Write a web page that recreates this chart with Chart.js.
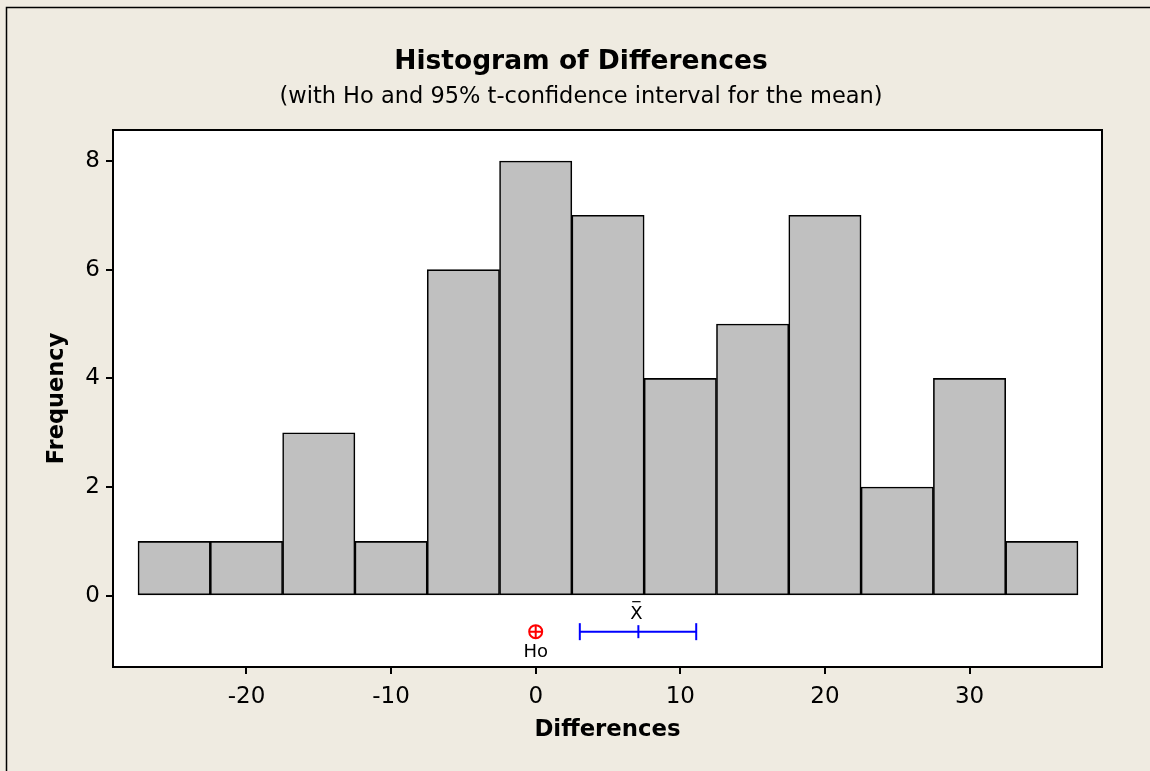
<!DOCTYPE html>
<html>
<head>
<meta charset="utf-8">
<script src="https://cdn.jsdelivr.net/npm/chart.js@4.4.1/dist/chart.umd.min.js"></script>
<style>
  html, body { margin: 0; padding: 0; background: #EFEBE1; }
  #wrap { width: 1150px; height: 771px; position: relative; }
</style>
</head>
<body>
<div id="wrap"><canvas id="c" width="1150" height="771"></canvas></div>
<script>
// ---- data ----
const binCenters  = [-25, -20, -15, -10, -5, 0, 5, 10, 15, 20, 25, 30, 35];
const frequencies = [1, 1, 3, 1, 6, 8, 7, 4, 5, 7, 2, 4, 1];
const xTickValues = [-20, -10, 0, 10, 20, 30];
const yTickValues = [0, 2, 4, 6, 8];
const hypothesizedMean = 0;
const ciLower = 3.05;
const sampleMean = 7.1;
const ciUpper = 11.1;
const intervalRow = -0.66;

const titleText = 'Histogram of Differences';
const subtitleText = '(with Ho and 95% t-confidence interval for the mean)';
const xTitle = 'Differences';
const yTitle = 'Frequency';

const FONT = "'DejaVu Sans', Verdana, sans-serif";

const decorPlugin = {
  id: 'decor',
  beforeDraw(chart) {
    const ctx = chart.ctx, a = chart.chartArea;
    ctx.save();
    ctx.fillStyle = '#EFEBE1';
    ctx.fillRect(0, 0, chart.width, chart.height);
    // outer frame
    ctx.strokeStyle = '#000';
    ctx.lineWidth = 1.5;
    ctx.beginPath();
    ctx.moveTo(6.5, chart.height);
    ctx.lineTo(6.5, 7.5);
    ctx.lineTo(chart.width, 7.5);
    ctx.stroke();
    ctx.fillStyle = '#FFFFFF';
    ctx.fillRect(a.left, a.top, a.right - a.left, a.bottom - a.top);
    ctx.restore();
  },
  afterDraw(chart) {
    const ctx = chart.ctx, a = chart.chartArea;
    const xs = chart.scales.x, ys = chart.scales.y;
    ctx.save();
    // plot border
    ctx.strokeStyle = '#000';
    ctx.lineWidth = 2;
    ctx.strokeRect(a.left, a.top, a.right - a.left, a.bottom - a.top);
    // titles
    ctx.fillStyle = '#000';
    ctx.textAlign = 'center';
    ctx.textBaseline = 'middle';
    ctx.font = "bold 26.5px " + FONT;
    ctx.fillText(titleText, 581, 62);
    ctx.font = "22.5px " + FONT;
    ctx.fillText(subtitleText, 581, 97);
    // axis titles
    ctx.font = "bold 22.8px " + FONT;
    ctx.fillText(xTitle, (a.left + a.right) / 2, 730);
    ctx.save();
    ctx.translate(57, (a.top + a.bottom) / 2);
    ctx.rotate(-Math.PI / 2);
    ctx.font = "bold 22.5px " + FONT;
    ctx.fillText(yTitle, 0, 0);
    ctx.restore();
    // Ho label
    ctx.font = "18px " + FONT;
    const hx = xs.getPixelForValue(hypothesizedMean);
    const ry = ys.getPixelForValue(intervalRow);
    ctx.fillText('Ho', hx, ry + 21);
    // X-bar label
    const mx = xs.getPixelForValue(sampleMean);
    ctx.fillText('X', mx - 2, ry - 17);
    const w = ctx.measureText('X').width;
    ctx.lineWidth = 1.2;
    ctx.beginPath();
    ctx.moveTo(mx - 2 - w / 2 + 2, ry - 30);
    ctx.lineTo(mx - 2 + w / 2 - 2, ry - 30);
    ctx.stroke();
    ctx.restore();
  }
};

const ctx = document.getElementById('c').getContext('2d');
new Chart(ctx, {
  type: 'bar',
  data: {
    datasets: [
      {
        type: 'bar',
        data: binCenters.map((x, i) => ({ x: x, y: frequencies[i] })),
        backgroundColor: '#C0C0C0',
        borderColor: '#000',
        borderWidth: 1.6,
        borderSkipped: false,
        barPercentage: 1,
        categoryPercentage: 1,
        order: 5
      },
      {
        type: 'line',
        data: [{ x: ciLower, y: intervalRow }, { x: ciUpper, y: intervalRow }],
        borderColor: '#0000FF',
        borderWidth: 2,
        pointStyle: 'line',
        pointRotation: 90,
        pointRadius: 8.5,
        pointBorderWidth: 2,
        pointBorderColor: '#0000FF',
        order: 1
      },
      {
        type: 'scatter',
        data: [{ x: sampleMean, y: intervalRow }],
        pointStyle: 'line',
        pointRotation: 90,
        pointRadius: 6.5,
        pointBorderWidth: 2,
        pointBorderColor: '#0000FF',
        order: 0
      },
      {
        type: 'scatter',
        data: [{ x: hypothesizedMean, y: intervalRow }],
        pointStyle: 'circle',
        pointRadius: 6.5,
        pointBorderWidth: 2,
        pointBackgroundColor: 'rgba(0,0,0,0)',
        pointBorderColor: '#FF0000',
        order: 0
      },
      {
        type: 'scatter',
        data: [{ x: hypothesizedMean, y: intervalRow }],
        pointStyle: 'cross',
        pointRadius: 6.5,
        pointBorderWidth: 2,
        pointBorderColor: '#FF0000',
        order: 0
      }
    ]
  },
  options: {
    responsive: false,
    animation: false,
    events: [],
    layout: { padding: { top: 130, right: 48, left: 0, bottom: 0 } },
    plugins: { legend: { display: false }, tooltip: { enabled: false }, title: { display: false } },
    scales: {
      x: {
        type: 'linear',
        min: -29.23,
        max: 39.16,
        offset: false,
        afterBuildTicks(s) { s.ticks = xTickValues.map(v => ({ value: v })); },
        afterFit(s) { s.height = 104; },
        grid: { display: true, offset: false, drawOnChartArea: false, drawTicks: true, tickLength: 7, color: '#000', lineWidth: 2 },
        border: { display: true, color: '#000', width: 2 },
        ticks: { color: '#000', font: { family: FONT, size: 23 }, padding: 9, maxRotation: 0, autoSkip: false }
      },
      y: {
        type: 'linear',
        min: -1.31,
        max: 8.57,
        afterBuildTicks(s) { s.ticks = yTickValues.map(v => ({ value: v })); },
        afterFit(s) { s.width = 113; },
        grid: { display: true, offset: false, drawOnChartArea: false, drawTicks: true, tickLength: 7, color: '#000', lineWidth: 2 },
        border: { display: true, color: '#000', width: 2 },
        ticks: { color: '#000', font: { family: FONT, size: 23 }, padding: 6, autoSkip: false }
      }
    }
  },
  plugins: [decorPlugin]
});
</script>
</body>
</html>
